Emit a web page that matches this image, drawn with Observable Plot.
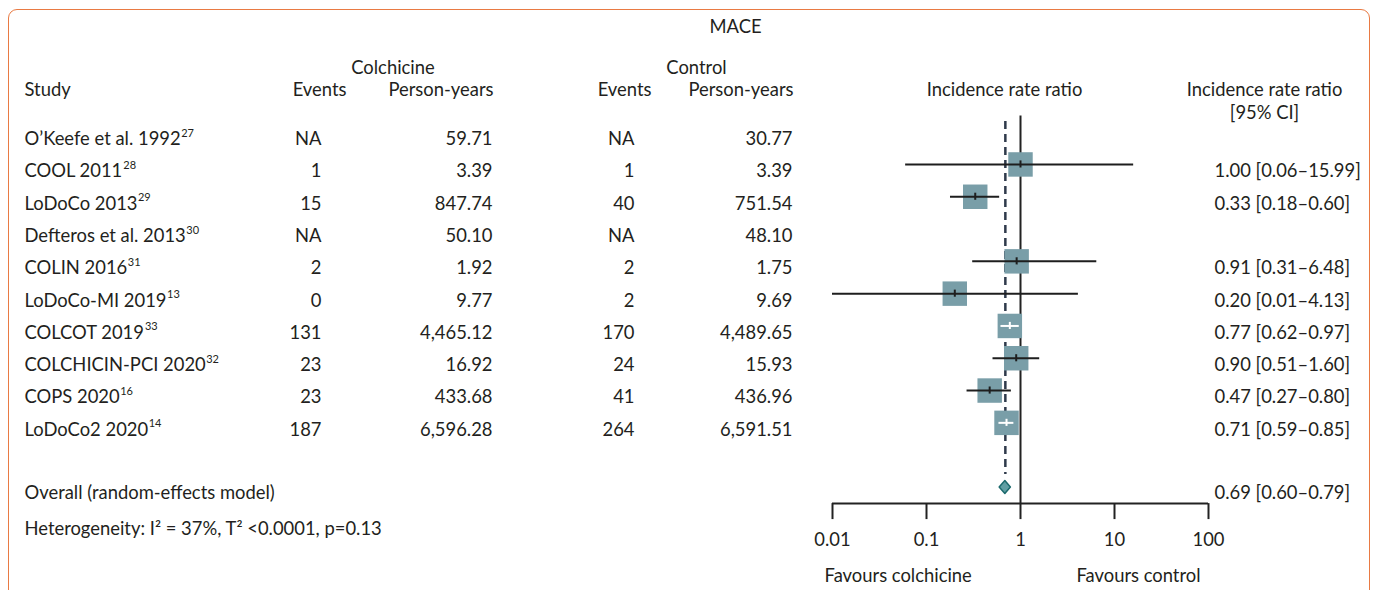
<!DOCTYPE html>
<html><head><meta charset="utf-8">
<script src="https://cdn.jsdelivr.net/npm/d3@7"></script>
<script src="https://cdn.jsdelivr.net/npm/@observablehq/plot@0.6"></script>
<style>
html,body{margin:0;padding:0;background:#fff;overflow:hidden;}
#wrap{position:relative;width:1375px;height:590px;}
#frame{position:absolute;left:8px;top:9px;width:1362px;height:640px;border:1.5px solid #e97a43;border-radius:9px;box-sizing:border-box;}
#wrap svg{position:absolute;left:0;top:0;overflow:visible;}
</style></head><body><div id="wrap"><div id="frame"></div></div>
<script>
// ---- data ----
const studies = ["O\u2019Keefe et al. 1992", "COOL 2011", "LoDoCo 2013", "Defteros et al. 2013", "COLIN 2016", "LoDoCo-MI 2019", "COLCOT 2019", "COLCHICIN-PCI 2020", "COPS 2020", "LoDoCo2 2020"];
const refs = ["27", "28", "29", "30", "31", "13", "33", "32", "16", "14"];
const colchicineEvents = ["NA", "1", "15", "NA", "2", "0", "131", "23", "23", "187"];
const colchicinePY = ["59.71", "3.39", "847.74", "50.10", "1.92", "9.77", "4,465.12", "16.92", "433.68", "6,596.28"];
const controlEvents = ["NA", "1", "40", "NA", "2", "2", "170", "24", "41", "264"];
const controlPY = ["30.77", "3.39", "751.54", "48.10", "1.75", "9.69", "4,489.65", "15.93", "436.96", "6,591.51"];
const irr = [null, 1.00, 0.33, null, 0.91, 0.20, 0.77, 0.90, 0.47, 0.71];
const lower = [null, 0.06, 0.18, null, 0.31, 0.01, 0.62, 0.51, 0.27, 0.59];
const upper = [null, 15.99, 0.60, null, 6.48, 4.13, 0.97, 1.60, 0.80, 0.85];
const overallEst = 0.69, overallLo = 0.60, overallHi = 0.79;
const xTicks = [0.01, 0.1, 1, 10, 100];

// ---- layout ----
const FONT = "Lato", FS = 18.4, INK = "#231f20";
const W = 1375, H = 590;
const yTop = 115.5, yBot = 503.1;
const col = {study: 24, ce: 321, cpy: 492, te: 634, tpy: 792, ci: 1214};
const fmt = d3.format(".2f");
const cv = document.createElement("canvas").getContext("2d");
cv.font = `${FS}px "${FONT}"`;
const measure = s => cv.measureText(s).width;

const rows = studies.map((s, i) => ({i, study: s, ref: refs[i], ce: colchicineEvents[i], cpy: colchicinePY[i], te: controlEvents[i], tpy: controlPY[i], est: irr[i], lo: lower[i], hi: upper[i]}));
const withEst = rows.filter(d => d.est != null);
const half = 12.25 / 94; // square half side in decades
const inside = d => Math.log10(d.est) - Math.log10(d.lo) < half && Math.log10(d.hi) - Math.log10(d.est) < half;

const yOpt = {type: "linear", domain: [-0.5, 11.5], range: [yTop, yBot], axis: null};
const rowDy = 7;
const style = {fontFamily: FONT, fontSize: FS + "px", color: INK, background: "transparent", overflow: "visible"};

const table = Plot.plot({
  width: W, height: H, margin: 0,
  x: {type: "linear", domain: [0, W], range: [0, W], axis: null},
  y: yOpt,
  style,
  marks: [
    Plot.text(["MACE"], {x: 735, y: -3.24, text: d => d}),
    Plot.text(["Colchicine"], {x: 392.5, y: -1.97, text: d => d}),
    Plot.text(["Control"], {x: 696, y: -1.97, text: d => d}),
    Plot.text(["Study"], {x: col.study, y: -1.29, text: d => d, textAnchor: "start"}),
    Plot.text(["Events"], {x: 346, y: -1.29, text: d => d, textAnchor: "end"}),
    Plot.text(["Person-years"], {x: 493, y: -1.29, text: d => d, textAnchor: "end"}),
    Plot.text(["Events"], {x: 651, y: -1.29, text: d => d, textAnchor: "end"}),
    Plot.text(["Person-years"], {x: 793, y: -1.29, text: d => d, textAnchor: "end"}),
    Plot.text(["Incidence rate ratio"], {x: 1004, y: -1.29, text: d => d}),
    Plot.text(["Incidence rate ratio"], {x: 1264, y: -1.29, text: d => d}),
    Plot.text(["[95% CI]"], {x: 1264, y: -0.58, text: d => d}),
    Plot.text(rows, {x: col.study, y: "i", dy: rowDy, text: "study", textAnchor: "start"}),
    Plot.text(rows, {x: d => col.study + measure(d.study) + 0.5, y: "i", dy: rowDy - 6, text: "ref", textAnchor: "start", fontSize: 11}),
    Plot.text(rows, {x: col.ce, y: "i", dy: rowDy, text: "ce", textAnchor: "end"}),
    Plot.text(rows, {x: col.cpy, y: "i", dy: rowDy, text: "cpy", textAnchor: "end"}),
    Plot.text(rows, {x: col.te, y: "i", dy: rowDy, text: "te", textAnchor: "end"}),
    Plot.text(rows, {x: col.tpy, y: "i", dy: rowDy, text: "tpy", textAnchor: "end"}),
    Plot.text(withEst, {x: col.ci, y: "i", dy: rowDy, text: d => `${fmt(d.est)} [${fmt(d.lo)}\u2013${fmt(d.hi)}]`, textAnchor: "start"}),
    Plot.text(["Overall (random-effects model)"], {x: col.study, y: 11, dy: rowDy - 1, text: d => d, textAnchor: "start"}),
    Plot.text([`${fmt(overallEst)} [${fmt(overallLo)}\u2013${fmt(overallHi)}]`], {x: col.ci, y: 11, dy: rowDy - 1, text: d => d, textAnchor: "start"}),
    Plot.text(["Heterogeneity: I\u00b2 = 37%, T\u00b2 <0.0001, p=0.13"], {x: col.study, y: 12, dy: rowDy + 2, text: d => d, textAnchor: "start"})
  ]
});

const diamond = [
  {y: 10.8, x1: overallEst, x2: overallEst},
  {y: 11, x1: overallLo, x2: overallHi},
  {y: 11.2, x1: overallEst, x2: overallEst}
];

const forest = Plot.plot({
  width: W, height: H,
  marginLeft: 832, marginRight: W - 1208, marginTop: yTop, marginBottom: H - yBot,
  x: {type: "log", domain: [0.01, 100], axis: null},
  y: yOpt,
  style,
  marks: [
    Plot.ruleX([1], {y1: -0.5, y2: 11.5, stroke: "#222", strokeWidth: 2}),
    Plot.ruleX([overallEst], {y1: -0.33, y2: 10.6, stroke: "#2f3a4b", strokeWidth: 2.5, strokeDasharray: "8,5"}),
    Plot.dot(withEst, {x: "est", y: "i", symbol: "square", r: 13.8, fill: "#799ea8"}),
    Plot.ruleY(withEst.filter(d => !inside(d)), {y: "i", x1: "lo", x2: "hi", stroke: "#1e1e1e", strokeWidth: 2}),
    Plot.ruleX(withEst.filter(d => !inside(d)), {x: "est", y1: d => d.i - 0.11, y2: d => d.i + 0.11, stroke: "#1e1e1e", strokeWidth: 2}),
    Plot.ruleY(withEst.filter(inside), {y: "i", x1: "lo", x2: "hi", stroke: "white", strokeWidth: 2}),
    Plot.ruleX(withEst.filter(inside), {x: "est", y1: d => d.i - 0.11, y2: d => d.i + 0.11, stroke: "white", strokeWidth: 2}),
    Plot.areaX(diamond, {y: "y", x1: "x1", x2: "x2", fill: "#5f9ea3", stroke: "#1c6a6d", strokeWidth: 1.5}),
    Plot.ruleY([11.5], {x1: 0.01, x2: 100, stroke: "#222", strokeWidth: 2}),
    Plot.ruleX(xTicks, {x: d => d, y1: 11.5, y2: 11.995, stroke: "#222", strokeWidth: 2}),
    Plot.text(xTicks, {x: d => d, y: 12.64, text: d => String(d)}),
    Plot.text(["Favours colchicine"], {x: 0.05, y: 13.76, text: d => d}),
    Plot.text(["Favours control"], {x: 18, y: 13.76, text: d => d})
  ]
});

document.getElementById("wrap").append(table, forest);
</script></body></html>
